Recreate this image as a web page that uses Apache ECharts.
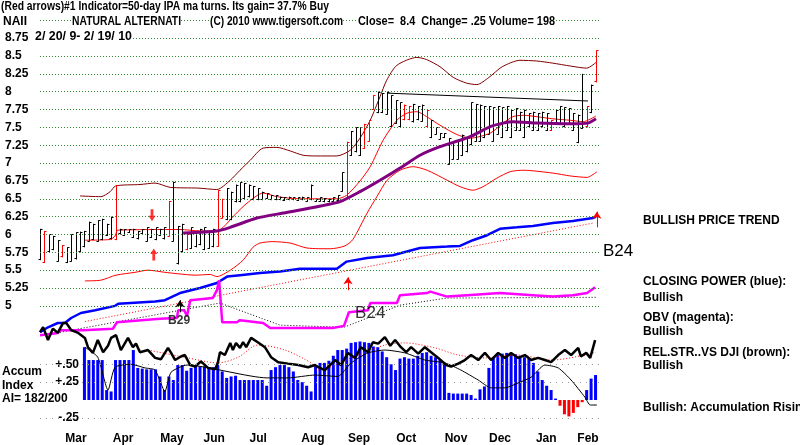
<!DOCTYPE html>
<html>
<head>
<meta charset="utf-8">
<script src="https://cdn.jsdelivr.net/npm/echarts@6/dist/echarts.min.js"></script>
<style>html,body{margin:0;padding:0;background:#fff}#chart{width:800px;height:445px}</style>
</head>
<body>
<div id="chart"></div>
<script>
// x unit = one price bar (2 trading days), 2/20/09 .. 2/19/10
const months = ['Mar', 'Apr', 'May', 'Jun', 'Jul', 'Aug', 'Sep', 'Oct', 'Nov', 'Dec', 'Jan', 'Feb']
const monthK = [8.1, 18.7, 29.7, 39.2, 49.1, 61.4, 71.8, 82.4, 93.6, 103.5, 113.9, 123.3]
const priceTicks = [5, 5.25, 5.5, 5.75, 6, 6.25, 6.5, 6.75, 7, 7.25, 7.5, 7.75, 8, 8.25, 8.5, 8.75]
const priceGrid = [5, 5.25, 5.5, 5.75, 6, 6.25, 6.5, 6.75, 7, 7.25, 7.5, 7.75, 8, 8.25, 8.5, 8.75, 9]
const accumTicks = [-0.25, 0.25, 0.5]
const accumTickText = ['-.25', '+.25', '+.50']

// price bars (high / low)
const barHigh = [6.08,6.05,6.0,5.98,5.92,5.85,5.82,6.0,6.03,6.04,6.05,6.18,6.15,6.2,6.22,6.15,6.25,6.69,6.08,6.07,
  6.07,6.08,6.05,6.07,6.1,6.08,6.1,6.08,6.1,6.47,6.74,6.12,6.15,6.0,6.1,6.05,6.08,6.1,6.05,6.08,
  6.62,6.5,6.65,6.6,6.7,6.73,6.72,6.7,6.68,6.65,6.6,6.58,6.55,6.55,6.53,6.52,6.53,6.52,6.52,6.53,
  6.52,6.7,6.5,6.52,6.51,6.5,6.52,6.55,6.87,7.3,7.45,7.5,7.5,7.55,7.6,7.95,8.0,7.98,8.0,7.95,
  7.88,7.85,7.82,7.8,7.83,7.8,7.82,7.75,7.6,7.5,7.42,7.42,7.35,7.3,7.33,7.4,7.35,7.85,7.83,7.82,
  7.8,7.8,7.78,7.8,7.78,7.8,7.75,7.77,7.72,7.75,7.7,7.72,7.7,7.72,7.7,7.6,7.75,7.8,7.78,7.77,
  7.7,7.68,8.25,7.8,8.1,8.58]
const barLow = [5.64,5.6,5.75,5.78,5.62,5.68,5.6,5.62,5.65,5.75,5.82,5.9,5.92,5.9,5.92,5.98,5.93,5.92,6.0,5.98,
  6.02,5.95,5.93,6.0,5.9,5.95,5.92,5.98,5.93,5.97,5.9,5.58,5.75,5.78,5.8,5.82,5.85,5.78,5.8,5.82,
  5.83,6.22,6.2,6.2,6.45,6.45,6.5,6.52,6.48,6.48,6.48,6.5,6.48,6.48,6.48,6.47,6.48,6.48,6.47,6.48,
  6.46,6.48,6.46,6.46,6.45,6.45,6.46,6.47,6.6,6.5,7.1,7.15,7.1,7.2,7.3,7.75,7.7,7.7,7.68,7.5,
  7.55,7.5,7.6,7.6,7.57,7.6,7.58,7.5,7.35,7.4,7.33,7.35,6.98,7.05,7.05,7.1,7.15,7.25,7.3,7.3,
  7.35,7.4,7.3,7.4,7.35,7.45,7.35,7.45,7.45,7.35,7.5,7.45,7.45,7.5,7.45,7.45,7.55,7.55,7.5,7.55,
  7.45,7.28,7.48,7.5,7.7,8.13]
const redBars = [1, 5, 17, 29, 33, 40, 41, 69, 73, 74, 75, 82, 83, 87, 115, 123, 125]

// bands and averages, [bar, price]
const upperBand = [[9,6.54],[13.7,6.53],[15.8,6.6],[17,6.68],[22.5,6.7],[25.9,6.72],[29.3,6.66],[35.5,6.65],[39.8,6.63],
  [42.8,6.76],[45,6.9],[47.3,7.04],[50.2,7.21],[53.3,7.22],[56.3,7.17],[59.2,7.11],[62.3,7.1],[66.8,7.1],[69.8,7.18],
  [72,7.35],[74.3,7.6],[76.5,7.93],[78,8.16],[80.3,8.37],[84.8,8.48],[87,8.45],[90,8.35],[93,8.2],[96,8.12],[98.3,8.1],
  [101,8.2],[104,8.35],[108,8.44],[111.8,8.43],[115.4,8.4],[119.3,8.36],[123,8.33],[125.3,8.42]]
const middleBand = [[10.1,5.92],[15.8,5.93],[16.9,5.98],[17.5,6.06],[31.5,6.07],[36,6.05],[39.8,6.05],[41.2,6.1],
  [43.9,6.28],[46.6,6.44],[50.2,6.58],[53.3,6.53],[58.5,6.5],[66.8,6.5],[69,6.55],[72,6.75],[74.3,6.95],[77.2,7.32],
  [80.3,7.6],[82.6,7.7],[84.8,7.72],[87,7.65],[90,7.53],[93.8,7.4],[96.8,7.35],[101.3,7.42],[104.2,7.56],[106.4,7.65],
  [108.7,7.67],[111.8,7.65],[115.4,7.62],[119.3,7.6],[122.2,7.58],[125.1,7.66]]
const lowerBand = [[10.1,5.35],[13.7,5.36],[17.1,5.43],[21.4,5.47],[24.3,5.5],[28.1,5.47],[31,5.45],[34.9,5.43],
  [38.3,5.44],[39.8,5.41],[42.8,5.5],[45.7,5.64],[47.9,5.82],[49.5,5.88],[52.4,5.9],[56.3,5.88],[60.1,5.81],[65.3,5.8],
  [68.6,5.84],[70.4,5.93],[73.6,6.3],[75.8,6.53],[78.1,6.76],[81,6.9],[83.9,6.95],[87.1,6.9],[91.6,6.76],[94.5,6.67],
  [97.4,6.62],[99.7,6.67],[102.8,6.79],[105.8,6.88],[108.7,6.9],[115.4,6.86],[119.3,6.82],[123.1,6.8],[125.3,6.88]]
const ma50 = [[32.2,6.02],[39.8,6.05],[42.8,6.1],[48.8,6.23],[54.7,6.3],[60.8,6.37],[67.5,6.46],[72,6.6],[76.5,6.76],
  [81,6.93],[85.5,7.11],[90,7.23],[94.5,7.32],[96.8,7.37],[101.3,7.51],[104.2,7.56],[106.4,7.58],[111.8,7.56],
  [119.3,7.55],[123.3,7.56],[125.1,7.62]]
const resistance = [[78.1,7.98],[123.3,7.87]]

// closing power (blue) and OBV (magenta), drawn in price units
const closingPower = [[0,4.63],[1.8,4.7],[4,4.76],[5.6,4.76],[7,4.83],[9.2,4.9],[12.4,4.94],[16.9,5.0],[17.6,5.03],
  [25.9,5.06],[28.1,5.08],[31.5,5.18],[36,5.25],[39.8,5.32],[42.1,5.41],[45,5.43],[49.5,5.46],[54,5.48],[58.5,5.52],
  [66.8,5.52],[69,5.62],[73.6,5.67],[79.4,5.71],[85.5,5.81],[91.6,5.83],[94.5,5.84],[97.4,5.92],[100.6,5.99],
  [103.5,6.08],[107.3,6.1],[110.9,6.12],[115.4,6.16],[119.9,6.19],[124.4,6.23],[125.1,6.25]]
const cpTrend = [[10.1,4.78],[124.4,6.16]]
const obv = [[0,4.59],[4,4.62],[4.7,4.66],[9.7,4.66],[16.4,4.68],[17.3,4.77],[27,4.82],[30.8,4.83],[31.1,4.94],
  [32.4,4.94],[33.1,4.86],[33.8,5.08],[38.9,5.11],[39.8,5.22],[40.3,5.36],[41,4.77],[44.3,4.77],[45,4.8],[50.2,4.76],
  [51.8,4.69],[65.9,4.69],[68.4,4.72],[69.5,4.91],[73.8,4.94],[74.3,5.04],[80.3,5.04],[81,5.15],[87.1,5.18],[87.8,5.2],
  [91.6,5.13],[96.1,5.15],[103.5,5.18],[110.9,5.15],[115.4,5.13],[119.9,5.15],[123.1,5.18],[124.9,5.26]]
const obvTrend = [[4.5,4.63],[40.5,5.04],[54,4.73],[68.4,4.7],[81,5.01],[91.6,5.11],[125.3,5.12]]

// accumulation index, one value per bar from bar 10
const accumStart = 10
const accumVals = [0.74,0.56,0.56,0.56,0.56,0.14,0.12,0.56,0.56,0.56,0.56,0.7,0.45,0.44,0.43,0.43,0.43,0.33,0.14,0.33,
  0.28,0.49,0.49,0.41,0.45,0.49,0.47,0.47,0.46,0.46,0.49,0.4,0.31,0.33,0.34,0.28,0.28,0.28,0.28,0.28,
  0.28,0.2,0.42,0.46,0.49,0.49,0.46,0.4,0.28,0.25,0.2,0.12,0.47,0.52,0.52,0.55,0.62,0.7,0.7,0.72,
  0.8,0.81,0.82,0.81,0.8,0.75,0.74,0.68,0.6,0.5,0.42,0.58,0.6,0.58,0.58,0.62,0.66,0.67,0.62,0.6,
  0.57,0.5,0.1,0.09,0.09,0.09,0.09,0.07,0.02,0.15,0.19,0.45,0.6,0.63,0.65,0.66,0.64,0.64,0.62,0.6,
  0.58,0.52,0.4,0.28,0.2,0.14,0.02,-0.08,-0.2,-0.23,-0.18,-0.1,-0.03,0.14,0.3,0.35]
const relStr = [[0,0.95],[0.7,1.02],[1.8,0.84],[2.9,1.0],[4,0.94],[5.2,1.08],[5.9,1.08],[7,0.98],[8.6,0.94],[10.1,0.87],
  [10.8,0.74],[11.9,0.66],[13,0.84],[14.2,0.67],[15.3,0.76],[16,0.87],[17.1,0.91],[18.2,0.7],[19.8,0.87],[20.9,0.74],
  [21.6,0.79],[22.5,0.67],[24.3,0.7],[25.9,0.59],[27.2,0.57],[28.8,0.73],[29.5,0.66],[30.4,0.56],[31.7,0.61],[32.6,0.63],
  [33.8,0.49],[34.9,0.47],[36.2,0.54],[37.8,0.45],[39.4,0.43],[40,0.52],[40.5,0.67],[41.6,0.63],[42.8,0.8],[43.4,0.7],
  [44.1,0.8],[45,0.73],[45.7,0.81],[46.4,0.74],[47.5,0.87],[49,0.81],[50.6,0.74],[52,0.6],[53.6,0.53],[55.8,0.51],
  [58.1,0.49],[60.3,0.46],[61.9,0.49],[62.6,0.46],[64.1,0.42],[66.4,0.56],[67.7,0.49],[69.3,0.66],[70.9,0.59],[72.2,0.74],
  [73.8,0.67],[74.9,0.81],[76.1,0.79],[77.6,0.88],[78.8,0.76],[79.9,0.84],[81.2,0.74],[82.4,0.67],[83.5,0.74],[85.1,0.65],
  [86.6,0.74],[88,0.67],[89.6,0.59],[91.4,0.49],[92.5,0.47],[94.1,0.51],[95.6,0.56],[97,0.63],[98.6,0.56],[100.1,0.66],
  [101.5,0.56],[103.1,0.66],[104.6,0.59],[106,0.66],[107.6,0.59],[109.1,0.63],[110.5,0.56],[112.1,0.59],[113.6,0.56],
  [115,0.53],[116.6,0.63],[118.1,0.7],[119.5,0.63],[121.1,0.73],[121.7,0.61],[122.9,0.66],[123.8,0.59],[124.9,0.84]]
const accumMa = [[10.1,0.74],[13,0.6],[15.3,0.14],[16.9,0.46],[20.5,0.5],[23.6,0.45],[25.9,0.42],[28.1,0.12],[29.5,0.39],
  [33.1,0.49],[51.1,0.31],[55.8,0.31],[61.9,0.35],[67,0.33],[70,0.52],[73.8,0.66],[77.6,0.7],[82.1,0.66],[86.6,0.56],
  [91.1,0.52],[94.7,0.42],[98.6,0.28],[101.5,0.17],[104.6,0.17],[107.6,0.24],[110.5,0.32],[113.6,0.49],[116.6,0.45],
  [119.5,0.28],[122.6,0.04],[123.8,-0.07],[125.3,-0.07]]
const relStrMa = [[24.3,0.7],[33.3,0.59],[40,0.52],[44.6,0.6],[49,0.77],[55.1,0.7],[61,0.52],[62.6,0.42],[70,0.59],
  [77.6,0.77],[82.1,0.8],[88.9,0.73],[94.1,0.63],[100.1,0.59],[107.6,0.63],[115,0.56],[122.6,0.63],[125.1,0.67]]

// signals
const blockArrows = [[25.2, 6.27, 'down'], [25.6, 5.72, 'up']]
const thinArrows = [[125.3, 6.1, 6.32, '#ff0000'], [69.3, 5.22, 5.4, '#ff0000'], [31.5, 4.91, 5.08, '#000000']]
const signalLabels = [[31.3, 4.79, 'B29', 12, 'bold'], [74.3, 4.89, 'B24', 17, 'normal']]

const FONT = "'Liberation Sans', Arial, sans-serif"

const chart = echarts.init(document.getElementById('chart'))
const measure = document.createElement('canvas').getContext('2d')

const line = (name, data, color, width, extra = {}) => Object.assign({
    name, type: 'line', data, symbol: 'none', silent: true,
    lineStyle: { color, width }, z: 3
}, extra)

const txt = (text, x, y, opts = {}, scaleX = 1) => ({
    type: 'text', x, y, scaleX, z: 100, silent: true,
    style: Object.assign({
        text, fill: '#000', font: 'bold 12px ' + FONT, verticalAlign: 'middle'
    }, opts)
})

// header text squeezed to the width it takes in the original
const fitTxt = (text, x, y, width) => {
    const font = 'bold 12px ' + FONT
    measure.font = font
    const w = measure.measureText(text).width
    return txt(text, x, y, { font, backgroundColor: '#fff' }, w ? width / w : 1)
}

chart.setOption({
    animation: false,
    backgroundColor: '#fff',
    grid: { left: 40, right: 200, top: 11.4, height: 419.4 },
    xAxis: {
        type: 'value', min: 0, max: 126,
        axisLine: { show: false }, axisTick: { show: false }, splitLine: { show: false },
        axisLabel: {
            customValues: monthK, margin: 2,
            color: '#000', fontFamily: FONT, fontWeight: 'bold', fontSize: 12,
            formatter: v => months[monthK.indexOf(v)] || ''
        }
    },
    yAxis: [{
        type: 'value', min: 3.25, max: 9.125, position: 'left',
        axisLine: { show: false }, axisTick: { show: false }, splitLine: { show: false },
        axisLabel: {
            customValues: priceTicks, align: 'left', margin: 35,
            color: '#000', fontFamily: FONT, fontWeight: 'bold', fontSize: 12,
            formatter: v => String(v)
        }
    }, {
        type: 'value', min: -0.431, max: 5.443, position: 'left', offset: -40,
        axisLine: { show: false }, axisTick: { show: false }, splitLine: { show: false },
        axisLabel: {
            customValues: accumTicks, align: 'right', margin: 1,
            color: '#000', fontFamily: FONT, fontWeight: 'bold', fontSize: 12,
            formatter: v => accumTickText[accumTicks.indexOf(v)] || ''
        }
    }],
    series: [
        {
            name: 'price', type: 'custom', z: 4,
            data: barLow.map((lo, k) => [k, lo, barHigh[k], redBars.includes(k) ? 1 : 0]),
            encode: { x: 0, y: [1, 2] },
            renderItem: (params, api) => {
                const top = api.coord([api.value(0), api.value(2)])
                const bot = api.coord([api.value(0), api.value(1)])
                const stroke = api.value(3) ? '#ff0000' : '#000000'
                const x = Math.round(top[0]) + 0.5
                const yt = Math.round(top[1]) + 0.5, yb = Math.round(bot[1]) - 0.5
                return {
                    type: 'group', children: [
                        { type: 'line', shape: { x1: x, y1: top[1], x2: x, y2: bot[1] }, style: { stroke, lineWidth: 1 } },
                        { type: 'line', shape: { x1: x, y1: yt, x2: x + 2, y2: yt }, style: { stroke, lineWidth: 1 } },
                        { type: 'line', shape: { x1: x - 2, y1: yb, x2: x, y2: yb }, style: { stroke, lineWidth: 1 } }
                    ]
                }
            },
            markLine: {
                silent: true, symbol: 'none', label: { show: false },
                lineStyle: { color: '#2e8b2e', type: [1, 2], width: 1 },
                data: priceGrid.map(v => ({ yAxis: v }))
            }
        },
        line('upper', upperBand, '#800000', 1, { smooth: 0.25 }),
        line('middle', middleBand, '#ff0000', 1, { smooth: 0.25 }),
        line('lower', lowerBand, '#ff0000', 1, { smooth: 0.25 }),
        line('ma50', ma50, '#800080', 3, { smooth: 0.2, z: 5 }),
        line('resistance', resistance, '#000000', 1),
        line('cpTrend', cpTrend, '#ff0000', 1, { lineStyle: { color: '#ff0000', width: 1, type: [1, 2] } }),
        line('closingPower', closingPower, '#0000ff', 2.5),
        line('obvTrend', obvTrend, '#000000', 1, { lineStyle: { color: '#000', width: 1, type: [1, 2] } }),
        line('obv', obv, '#ff00ff', 2.5),
        {
            name: 'accum', type: 'bar', yAxisIndex: 1, barWidth: 3, silent: true, z: 2,
            data: accumVals.map((v, i) => [i + accumStart, v]),
            itemStyle: { color: p => p.value[1] < 0 ? '#ff0000' : '#0000ff' },
            markLine: {
                silent: true, symbol: 'none', label: { show: false },
                lineStyle: { color: '#999', type: [1, 5], width: 1 },
                data: accumTicks.map(v => ({ yAxis: v }))
            }
        },
        line('relStrMa', relStrMa, '#ff0000', 1, { yAxisIndex: 1, smooth: 0.3, lineStyle: { color: '#ff0000', width: 1, type: [1, 2] } }),
        line('accumMa', accumMa, '#000000', 1, { yAxisIndex: 1, smooth: 0.2 }),
        line('relStr', relStr, '#000000', 2.5, { yAxisIndex: 1 }),
        {
            name: 'blockArrows', type: 'scatter', silent: true, z: 6,
            data: blockArrows.map(a => ({
                value: [a[0], a[1]],
                symbol: a[2] === 'down'
                    ? 'path://M3,0 L7,0 L7,7 L10,7 L5,13 L0,7 L3,7 Z'
                    : 'path://M5,0 L10,6 L7,6 L7,13 L3,13 L3,6 L0,6 Z'
            })),
            symbolSize: [7, 12],
            itemStyle: { color: '#ff0000' }
        },
        {
            name: 'thinArrows', type: 'line', data: [], silent: true,
            markLine: {
                silent: true, symbol: ['none', 'arrow'], symbolSize: 7, label: { show: false },
                data: thinArrows.map(a => [
                    { coord: [a[0], a[1]], lineStyle: { color: a[3], width: 1, type: 'solid' } },
                    { coord: [a[0], a[2]] }
                ])
            }
        },
        {
            name: 'signals', type: 'scatter', silent: true, symbolSize: 0, z: 7,
            data: signalLabels.map(s => ({
                value: [s[0], s[1]],
                label: {
                    show: true, position: 'inside', formatter: s[2], color: '#000',
                    fontFamily: FONT, fontSize: s[3], fontWeight: s[4]
                }
            }))
        }
    ],
    graphic: [
        fitTxt('(Red arrows)#1 Indicator=50-day IPA ma turns. Its gain= 37.7% Buy', 1, 7, 328),
        fitTxt('NAII', 3, 22, 24),
        fitTxt('NATURAL ALTERNATI', 72, 22, 109),
        fitTxt('(C) 2010 www.tigersoft.com', 210, 22, 133),
        fitTxt('Close=  8.4  Change= .25 Volume= 198', 358, 22, 197),
        fitTxt('2/ 20/ 9- 2/ 19/ 10', 35, 37, 97),
        txt('Accum', 2, 372),
        txt('Index', 2, 386),
        txt('AI= 182/200', 2, 399),
        txt('BULLISH PRICE TREND', 643, 221),
        txt('B24', 603, 251, { font: 'normal 17px ' + FONT }),
        txt('CLOSING POWER (blue):', 643, 282),
        txt('Bullish', 643, 298),
        txt('OBV (magenta):', 643, 318),
        txt('Bullish', 643, 332),
        txt('REL.STR..VS DJI (brown):', 643, 353),
        txt('Bullish', 643, 366),
        txt('Bullish: Accumulation Rising', 643, 408)
    ]
})
</script>
</body>
</html>
